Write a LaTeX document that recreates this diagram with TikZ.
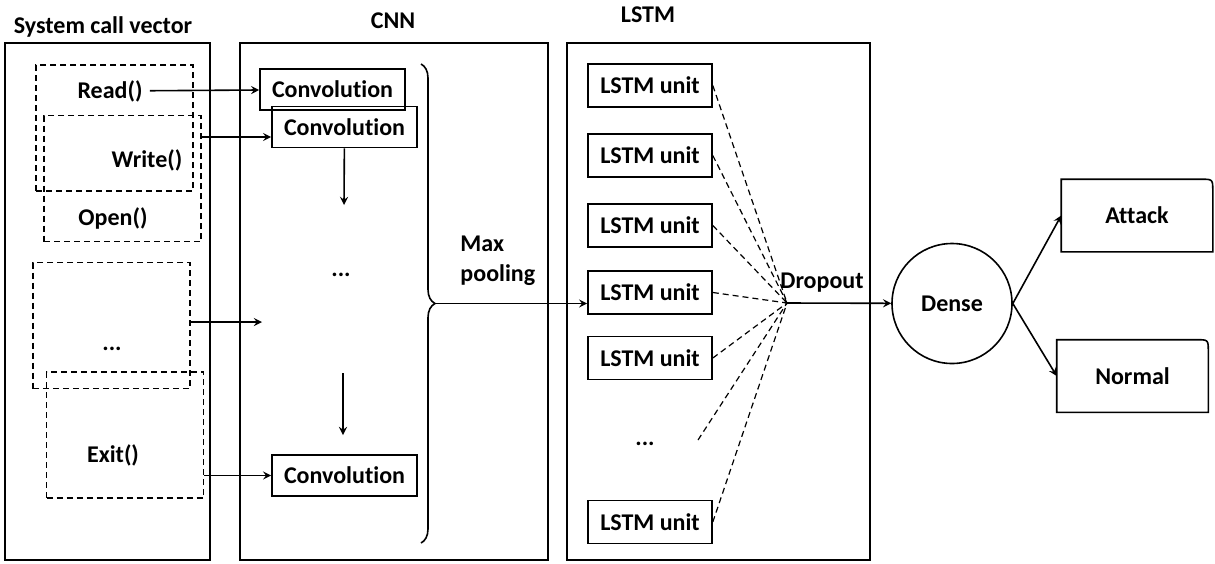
\documentclass[tikz,border=0pt]{standalone}
\usepackage{fontspec}
\setmainfont{Carlito}[Ligatures=NoCommon]
\usetikzlibrary{positioning,decorations.pathreplacing}

\begin{document}
\begin{tikzpicture}[x=0.5pt,y=-0.5pt,>=stealth,line width=0.8pt,
    every node/.style={font=\bfseries\fontsize{12}{14}\selectfont},
    conv node/.style={draw,minimum width=72.5pt,minimum height=20.5pt,inner sep=0pt},
    lstm node/.style={draw,minimum width=62pt,minimum height=21.5pt,inner sep=0pt},
    call box/.style={draw,dash pattern=on 3pt off 2pt,minimum width=78.5pt,minimum height=63pt},
    out node/.style={minimum width=75pt,minimum height=35.5pt}]
    \useasboundingbox (0,0) rectangle (1215,563);

    % the three panels
    \draw (5,43) rectangle (210,560);
    \draw (240,43) rectangle (548,560);
    \draw (567,43) rectangle (870,560);
    \node (t1) at (103,27) {System call vector};
    \node (t2) at (393,21) {CNN};
    \node (t3) at (648,15) {LSTM};

    % system calls
    \node[call box] (b1) at (114.5,128) {};
    \node[call box] (b2) at (122.5,178.5) {};
    \node[call box] (b3) at (111.5,325.5) {};
    \node[call box] (b4) at (125,435) {};
    \node (read) at (110,91) {Read()};
    \node (write) at (147,160) {Write()};
    \node (open) at (113,218) {Open()};
    \node (sdots) at (112,349) {...};
    \node (exit) at (113,455) {Exit()};

    % convolutions
    \node[conv node] (c1) at (332.5,89.5) {Convolution};
    \node[conv node] (c2) at (344.5,127) {Convolution};
    \node[conv node] (c3) at (344.5,475.5) {Convolution};
    \node (cdots) at (341,275) {...};
    \coordinate (a1) at (344,205);
    \coordinate (a2) at (343,373);
    \coordinate (a3) at (343,435);
    \coordinate (a4) at (262,322);
    \coordinate (c2in) at ([yshift=-5pt]c2.west);

    \draw[decorate,decoration={brace,amplitude=7pt}] (421,64) -- (421,543);
    \coordinate (pool) at (435,303.5);
    \node[align=left,anchor=west] (mp) at (453,261) {Max\\[1pt]pooling};

    % lstm units
    \node[lstm node] (l1) at (650,85.5) {LSTM unit};
    \node[lstm node] (l2) at (650,155.5) {LSTM unit};
    \node[lstm node] (l3) at (650,225.5) {LSTM unit};
    \node[lstm node] (l4) at (650,292.5) {LSTM unit};
    \node[lstm node] (l5) at (650,358) {LSTM unit};
    \node[lstm node] (l6) at (650,522) {LSTM unit};
    \node (ldots) at (645,444) {...};
    \coordinate (ld) at (698,440);
    \coordinate (drop) at (787,303);
    \node (dlabel) at (822,283) {Dropout};

    % output
    \node[circle,draw,minimum size=60pt,inner sep=0pt] (dense) at (952,303.5) {Dense};
    \node[out node] (attack) at (1137,215.5) {Attack};
    \node[out node] (normal) at (1132.5,376) {Normal};
    \draw (attack.south west) -- (attack.north west) -- ([xshift=-6pt]attack.north east)
        .. controls (attack.north east) .. ([yshift=-6pt]attack.north east) -- (attack.south east) -- cycle;
    \draw (normal.south west) -- (normal.north west) -- ([xshift=-6pt]normal.north east)
        .. controls (normal.north east) .. ([yshift=-6pt]normal.north east) -- (normal.south east) -- cycle;

    \path[->]
        (read) edge (c1)
        (b2.east |- c2in) edge (c2in)
        (b3.east |- a4) edge (a4)
        (b4.east |- c3.west) edge (c3.west)
        (c2) edge (a1)
        (a2) edge (a3)
        (pool) edge (l4.west |- pool)
        (drop) edge (dense)
        (dense.east) edge (attack.west)
        (dense.east) edge (normal.west)
        ;
    \path[dash pattern=on 3pt off 2pt,line width=0.6pt]
        (l1.east) edge (drop)
        (l2.east) edge (drop)
        (l3.east) edge (drop)
        (l4.east) edge (drop)
        (l5.east) edge (drop)
        (ld) edge (drop)
        (l6.east) edge (drop)
        ;
\end{tikzpicture}
\end{document}
